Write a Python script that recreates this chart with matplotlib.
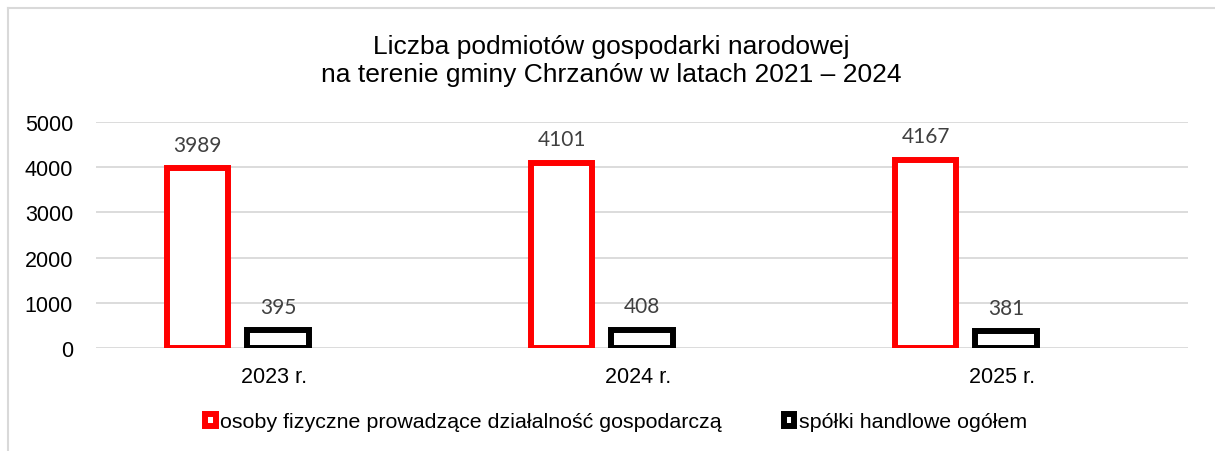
import numpy as np
import matplotlib.pyplot as plt
from matplotlib.lines import Line2D

years = ["2023 r.", "2024 r.", "2025 r."]
osoby = [3989, 4101, 4167]
spolki = [395, 408, 381]
series_names = ["osoby fizyczne prowadzące działalność gospodarczą", "spółki handlowe ogółem"]

plt.rcParams['font.family'] = ['Liberation Sans', 'DejaVu Sans']

fig = plt.figure(figsize=(12.15, 4.52), dpi=100)
ax = fig.add_axes([96 / 1215, 1 - 349 / 452, 1092 / 1215, 226 / 452])

x = np.arange(len(years))
w = 0.17
off = 0.111
b1 = ax.bar(x - off, osoby, w, facecolor="white", edgecolor="#ff0000", linewidth=4.3,
            label=series_names[0], zorder=3)
b2 = ax.bar(x + off, spolki, w, facecolor="white", edgecolor="black", linewidth=4.3,
            label=series_names[1], zorder=3)

# value labels above the bars
for bars, vals in ((b1, osoby), (b2, spolki)):
    for r, v in zip(bars, vals):
        ax.annotate(str(v), (r.get_x() + r.get_width() / 2, v), xytext=(0, 9.5),
                    textcoords="offset points", ha="center", va="bottom",
                    fontsize=15, color="#404040", family=["Lato", "DejaVu Sans"])

ax.set_ylim(0, 5000)
ax.set_xlim(-0.39, 2.61)
ax.set_yticks(range(0, 5001, 1000))
ax.set_xticks(x + 0.1)
ax.set_xticklabels(years)
ax.tick_params(axis="both", length=0, labelsize=15.5, colors="black")
ax.tick_params(axis="y", pad=16.5)
ax.tick_params(axis="x", pad=13)
ax.grid(axis="y", color="#d9d9d9", linewidth=1.3, zorder=0)
for s in ax.spines.values():
    s.set_visible(False)

fig.text(611 / 1215, 1 - 61 / 452, "Liczba podmiotów gospodarki narodowej\nna terenie gminy Chrzanów w latach 2021 – 2024",
         ha="center", va="center", fontsize=19, linespacing=1.2)

fig.legend(handles=[b1, b2], loc="center", bbox_to_anchor=(616 / 1215, 1 - 423 / 452),
           ncol=2, frameon=False, fontsize=15.4, handlelength=0.5, handleheight=0.5,
           handletextpad=0.2, columnspacing=2.9)

# chart frame
fig.add_artist(Line2D([8 / 1215, 8 / 1215], [0, 1 - 9 / 452], color="#d9d9d9", lw=1.5))
fig.add_artist(Line2D([8 / 1215, 1], [1 - 9 / 452, 1 - 9 / 452], color="#d9d9d9", lw=1.5))

fig.savefig("out.png", dpi=100)
